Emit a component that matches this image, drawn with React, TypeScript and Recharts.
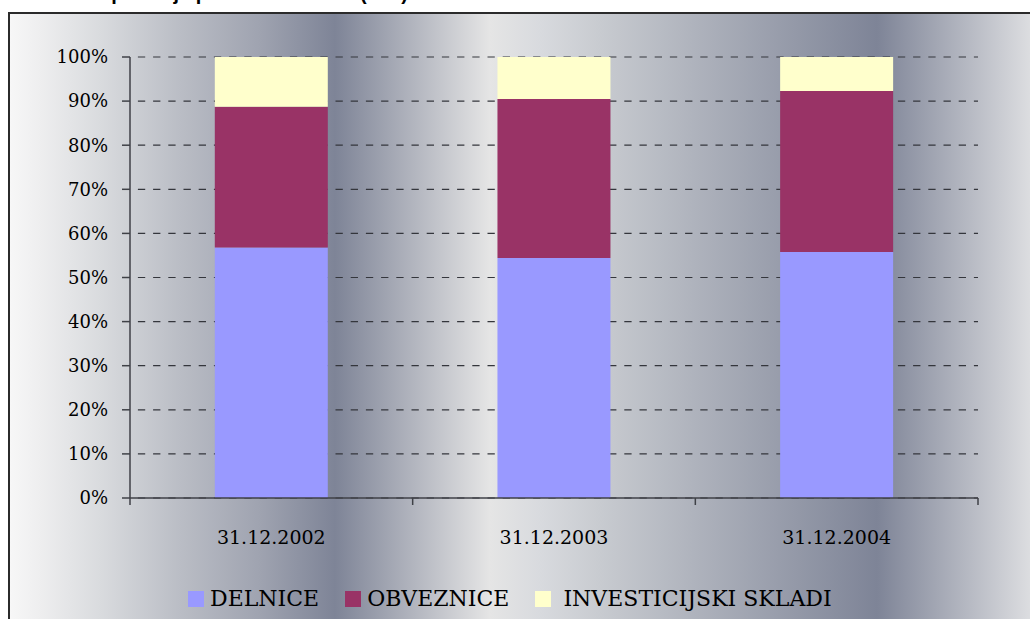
import { Bar, BarChart, CartesianGrid, XAxis, YAxis } from "recharts";

// values in % of portfolio
const categories = ["31.12.2002", "31.12.2003", "31.12.2004"];
const delnice = [56.8, 54.4, 55.8];
const obveznice = [31.9, 36.1, 36.5];
const skladi = [11.3, 9.5, 7.7];
const yTicks = [0, 10, 20, 30, 40, 50, 60, 70, 80, 90, 100];

const seriesNames = ["DELNICE", "OBVEZNICE", "INVESTICIJSKI SKLADI"];
const seriesColors = ["#9999ff", "#993366", "#ffffcc"];

const title = "Sestava portfelja po vrstah naložb (v %)";

const data = categories.map((date, i) => ({
  date,
  delnice: delnice[i],
  obveznice: obveznice[i],
  skladi: skladi[i],
}));

const W = 1030;
const H = 619;
// the axes take 1px each, so plot area is x 130..978, y 57..498
const MARGIN = { top: 57, right: 52, bottom: 120, left: 129 };
const PLOT_W = W - 130 - MARGIN.right;
const X_TICK_SIZE = 7;
const X_TICK_MARGIN = 26;
const AXIS_COLOR = "#3f4147";
const SERIF = "'DejaVu Serif', serif";

function CategoryTick(props: any) {
  const { x, y, payload, index, visibleTicksCount } = props;
  const count = visibleTicksCount || categories.length;
  const band = PLOT_W / count;
  const axisY = y - X_TICK_SIZE - X_TICK_MARGIN;
  return (
    <g>
      <line
        x1={x - band / 2}
        x2={x - band / 2}
        y1={axisY}
        y2={axisY + X_TICK_SIZE}
        stroke={AXIS_COLOR}
        strokeWidth={1.5}
      />
      {index === count - 1 && (
        <line
          x1={x + band / 2}
          x2={x + band / 2}
          y1={axisY}
          y2={axisY + X_TICK_SIZE}
          stroke={AXIS_COLOR}
          strokeWidth={1.5}
        />
      )}
      <text x={x} y={y} dy="0.71em" textAnchor="middle" fill="#000" fontSize={19} fontFamily={SERIF}>
        {payload.value}
      </text>
    </g>
  );
}

const background =
  "linear-gradient(to right, #f7f7f7 0px, #eeeeef 30px, #d9dbde 90px, #babdc5 170px, #9fa3b0 250px, #7e8497 325px, #e5e5e5 480px, #d8dade 530px, #c8cbd0 590px, #7e8497 867px, #dcdde0 1020px, #e4e4e6 1100px)";

export default function App() {
  return (
    <div
      style={{
        position: "absolute",
        left: 0,
        top: 0,
        width: W,
        height: H,
        overflow: "hidden",
        background: "#fff",
        fontFamily: SERIF,
      }}
    >
      {/* title sits mostly above the top edge, as in the source crop */}
      <div
        style={{
          position: "absolute",
          left: 30,
          top: -17,
          fontFamily: "'Liberation Sans', Arial, sans-serif",
          fontWeight: "bold",
          fontSize: 20,
          lineHeight: "20px",
          whiteSpace: "nowrap",
          color: "#000",
        }}
      >
        {title}
      </div>
      <div
        style={{
          position: "absolute",
          left: 8,
          top: 12,
          width: 1100,
          height: 700,
          borderLeft: "2px solid #2b2b2b",
          borderTop: "2px solid #2b2b2b",
          background,
        }}
      />
      <div style={{ position: "absolute", left: 0, top: 0 }}>
        <BarChart width={W} height={H} data={data} margin={MARGIN} barCategoryGap="30%">
          <CartesianGrid
            vertical={false}
            stroke="#34363c"
            strokeWidth={1.2}
            strokeDasharray="7.3 7.9"
            strokeDashoffset={7.3}
          />
          <XAxis
            dataKey="date"
            height={1}
            tickLine={false}
            tickSize={X_TICK_SIZE}
            tickMargin={X_TICK_MARGIN}
            axisLine={{ stroke: AXIS_COLOR, strokeWidth: 1.5 }}
            tick={<CategoryTick />}
            interval={0}
          />
          <YAxis
            width={1}
            domain={[0, 100]}
            ticks={yTicks}
            interval={0}
            tickSize={8}
            tickMargin={14}
            tickFormatter={(v: number) => `${v}%`}
            tick={{ fontSize: 18, fill: "#000", fontFamily: SERIF }}
            tickLine={{ stroke: AXIS_COLOR, strokeWidth: 1.5 }}
            axisLine={{ stroke: AXIS_COLOR, strokeWidth: 1.5 }}
          />
          <Bar dataKey="delnice" name={seriesNames[0]} stackId="a" fill={seriesColors[0]} isAnimationActive={false} />
          <Bar dataKey="obveznice" name={seriesNames[1]} stackId="a" fill={seriesColors[1]} isAnimationActive={false} />
          <Bar dataKey="skladi" name={seriesNames[2]} stackId="a" fill={seriesColors[2]} isAnimationActive={false} />
        </BarChart>
      </div>
      <div
        style={{
          position: "absolute",
          left: 188,
          top: 583,
          height: 32,
          display: "flex",
          alignItems: "center",
          fontSize: 22,
          lineHeight: "22px",
          color: "#000",
          whiteSpace: "nowrap",
        }}
      >
        {seriesNames.map((name, i) => (
          <div key={name} style={{ display: "flex", alignItems: "center", marginRight: 26 }}>
            <span style={{ width: 16, height: 16, background: seriesColors[i], marginRight: i === 2 ? 12 : 6 }} />
            <span>{name}</span>
          </div>
        ))}
      </div>
    </div>
  );
}
